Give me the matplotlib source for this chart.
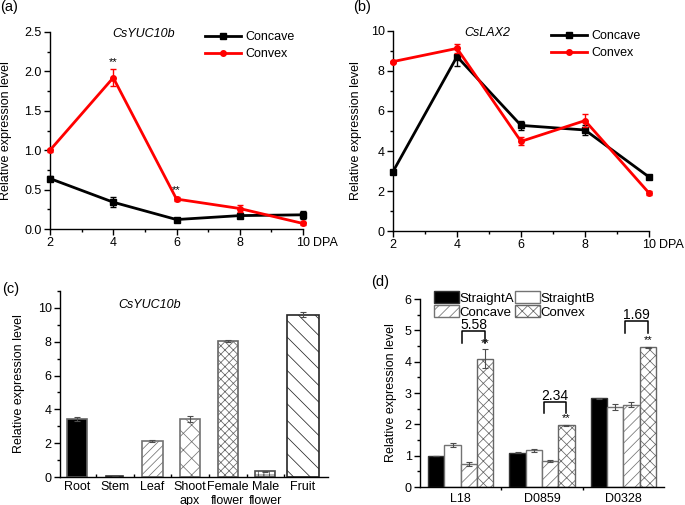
import matplotlib
matplotlib.use("Agg")
import numpy as np
import matplotlib.pyplot as plt
from matplotlib.ticker import MultipleLocator, FixedLocator

# Datos
DPA = [2, 4, 6, 8, 10]

yuc_concave = [0.64, 0.34, 0.12, 0.17, 0.18]
yuc_concave_err = [0.03, 0.06, 0.02, 0.03, 0.05]
yuc_convex = [1.00, 1.92, 0.38, 0.26, 0.07]
yuc_convex_err = [0.02, 0.11, 0.02, 0.04, 0.02]

lax_concave = [2.97, 8.72, 5.28, 5.05, 2.70]
lax_concave_err = [0.05, 0.45, 0.22, 0.25, 0.05]
lax_convex = [8.47, 9.13, 4.48, 5.52, 1.90]
lax_convex_err = [0.05, 0.22, 0.20, 0.32, 0.08]

tissues = ["Root", "Stem", "Leaf", "Shoot\napx", "Female\nflower", "Male\nflower", "Fruit"]
tissue_expr = [3.44, 0.05, 2.13, 3.45, 8.07, 0.33, 9.60]
tissue_err = [0.12, 0.02, 0.04, 0.18, 0.06, 0.02, 0.16]

lines = ["L18", "D0859", "D0328"]
straightA = [0.99, 1.09, 2.83]
straightA_err = [0.01, 0.02, 0.02]
straightB = [1.35, 1.17, 2.55]
straightB_err = [0.06, 0.05, 0.10]
concave = [0.74, 0.83, 2.62]
concave_err = [0.06, 0.03, 0.08]
convex = [4.10, 1.97, 4.46]
convex_err = [0.30, 0.02, 0.02]
fold_change = ["5.58", "2.34", "1.69"]
bracket_top = [4.98, 2.72, 5.30]

W, H = 685, 505

plt.rcParams['font.family'] = ['Liberation Sans', 'DejaVu Sans']
plt.rcParams['hatch.linewidth'] = 0.55
plt.rcParams['axes.linewidth'] = 1.0


def Box(left, top, right, bottom):
    # converte pixels (origem no topo) para coordenadas da figura
    return [left / W, 1 - bottom / H, (right - left) / W, (bottom - top) / H]


def Clean(ax):
    ax.spines['top'].set_visible(False)
    ax.spines['right'].set_visible(False)
    ax.tick_params(which='major', direction='out', length=4, width=1, labelsize=9, pad=2)
    ax.tick_params(which='minor', direction='out', length=2.5, width=1)


def LinePanel(ax, conc, conc_err, conv, conv_err, ymax, ystep, title, title_x):
    for vals, errs, color, marker, name in [(conc, conc_err, 'black', 's', 'Concave'),
                                            (conv, conv_err, '#ff0000', 'o', 'Convex')]:
        ax.plot(DPA, vals, color=color, marker=marker, ms=4, lw=2, clip_on=False, label=name, zorder=3)
        ax.errorbar(DPA, vals, yerr=errs, fmt='none', ecolor=color, elinewidth=1,
                    capsize=2.5, capthick=1, clip_on=False, zorder=3)
    ax.set_xlim(2, 10)
    ax.set_ylim(0, ymax)
    ax.set_xticks(DPA)
    ax.set_xticklabels(["2", "4", "6", "8", "10"])
    ax.xaxis.set_minor_locator(MultipleLocator(1))
    ax.yaxis.set_major_locator(MultipleLocator(ystep))
    ax.yaxis.set_minor_locator(MultipleLocator(ystep / 2))
    Clean(ax)
    ax.annotate("DPA", xy=(10, 0), xycoords='data', xytext=(7, -6), textcoords='offset points',
                ha='left', va='top', fontsize=9, annotation_clip=False)
    ax.set_ylabel("Relative expression level", fontsize=9)
    ax.text(title_x, 0.99, title, transform=ax.transAxes, ha='center', va='center',
            fontsize=9, style='italic')
    ax.legend(loc='upper right', bbox_to_anchor=(0.99, 1.035), frameon=False, fontsize=9,
              handlelength=2.9, handletextpad=0.3, labelspacing=0.4, borderpad=0)


fig = plt.figure(figsize=(W / 100, H / 100), dpi=100)

# (a)
axA = fig.add_axes(Box(50, 32, 303, 229))
LinePanel(axA, yuc_concave, yuc_concave_err, yuc_convex, yuc_convex_err, 2.5, 0.5, "CsYUC10b", 0.37)
axA.yaxis.set_label_coords(-0.15, 0.5)
axA.set_yticklabels([f"{v:.1f}" for v in axA.get_yticks()])
for i in [1, 2]:
    axA.text(DPA[i], yuc_convex[i] + yuc_convex_err[i] + 0.03, "**", ha='center', va='bottom', fontsize=8)

# (b)
axB = fig.add_axes(Box(393, 31, 649, 231))
LinePanel(axB, lax_concave, lax_concave_err, lax_convex, lax_convex_err, 10, 2, "CsLAX2", 0.37)
axB.yaxis.set_label_coords(-0.12, 0.5)

# (c)
axC = fig.add_axes(Box(60, 291, 328, 477))
xc = np.arange(len(tissues))
c_hatch = ['', '', '////', 'xx', 'xxxx', '+++', '\\\\']
c_face = ['black', 'white', 'white', 'white', 'white', 'white', 'white']
c_edge = ['0.4', '0.2', '0.45', '0.45', '0.4', '0.3', '0.15']
c_width = [0.53, 0.45, 0.55, 0.53, 0.53, 0.53, 0.85]
for i in range(len(tissues)):
    axC.bar(xc[i], tissue_expr[i], width=c_width[i], color=c_face[i], edgecolor=c_edge[i],
            hatch=c_hatch[i], linewidth=1.2)
axC.errorbar(xc, tissue_expr, yerr=tissue_err, fmt='none', ecolor='0.3', elinewidth=0.8,
             capsize=2.5, capthick=0.8)
axC.set_xlim(-0.45, 6.66)
axC.set_ylim(0, 11)
axC.set_xticks(xc)
axC.set_xticklabels(tissues, fontsize=9.5, linespacing=1.15)
axC.xaxis.set_minor_locator(FixedLocator(xc[:-1] + 0.5))
axC.yaxis.set_major_locator(MultipleLocator(2))
axC.yaxis.set_minor_locator(MultipleLocator(1))
Clean(axC)
axC.tick_params(axis='x', which='major', length=0, pad=3)
axC.tick_params(axis='x', which='minor', direction='in', length=2.5)
axC.set_ylabel("Relative expression level", fontsize=9)
axC.yaxis.set_label_coords(-0.13, 0.5)
axC.text(0.336, 0.925, "CsYUC10b", transform=axC.transAxes, ha='center', va='center',
         fontsize=9, style='italic')

# (d)
axD = fig.add_axes(Box(420, 299, 664, 487))
xd = np.arange(len(lines))
bw = 0.2
series = [
    (straightA, straightA_err, "StraightA", 'black', '0.2', ''),
    (straightB, straightB_err, "StraightB", 'white', '0.45', ''),
    (concave, concave_err, "Concave", 'white', '0.45', '///'),
    (convex, convex_err, "Convex", 'white', '0.4', 'xxx'),
]
bars = []
for k, (vals, errs, name, face, edge, hatch) in enumerate(series):
    pos = xd + (k - 1.5) * bw
    bars.append(axD.bar(pos, vals, width=bw, color=face, edgecolor=edge, hatch=hatch,
                        linewidth=1.0, label=name))
    axD.errorbar(pos, vals, yerr=errs, fmt='none', ecolor='0.3', elinewidth=0.8,
                 capsize=2.5, capthick=0.8)
for i in range(len(lines)):
    xl = xd[i] + 0.5 * bw - 0.08
    xr = xd[i] + 1.5 * bw
    top = bracket_top[i]
    axD.plot([xl, xl, xr, xr], [top - 0.37, top, top, top - 0.37], color='black', lw=1.1)
    axD.text((xl + xr) / 2, top + 0.05, fold_change[i], ha='center', va='baseline', fontsize=10)
    axD.text(xr, convex[i] + convex_err[i] + 0.04, "**", ha='center', va='bottom', fontsize=8)
axD.set_xlim(-0.5, 2.5)
axD.set_ylim(0, 6)
axD.set_xticks(xd)
axD.set_xticklabels(lines, fontsize=9.5)
axD.xaxis.set_minor_locator(FixedLocator([0.5, 1.5]))
axD.yaxis.set_major_locator(MultipleLocator(1))
axD.yaxis.set_minor_locator(MultipleLocator(0.5))
Clean(axD)
axD.tick_params(axis='x', which='major', length=0, pad=4)
axD.set_ylabel("Relative expression level", fontsize=9)
axD.yaxis.set_label_coords(-0.094, 0.5)
# legenda preenchida por coluna: ordem para ficar StraightA/StraightB na 1a linha
order = [0, 2, 1, 3]
axD.legend([bars[k] for k in order], [series[k][2] for k in order],
           loc='upper left', bbox_to_anchor=(0.03, 1.075), ncol=2, frameon=False, fontsize=9.5,
           handlelength=1.9, handleheight=0.95, handletextpad=0.05, columnspacing=0.05,
           labelspacing=0.05, borderpad=0)

# rótulos dos painéis
for label, x, y in [("(a)", 0, 7), ("(b)", 353, 7), ("(c)", 2, 289), ("(d)", 371, 282)]:
    fig.text(x / W, 1 - y / H, label, ha='left', va='center', fontsize=10.5)

fig.savefig("out.png", dpi=100)
